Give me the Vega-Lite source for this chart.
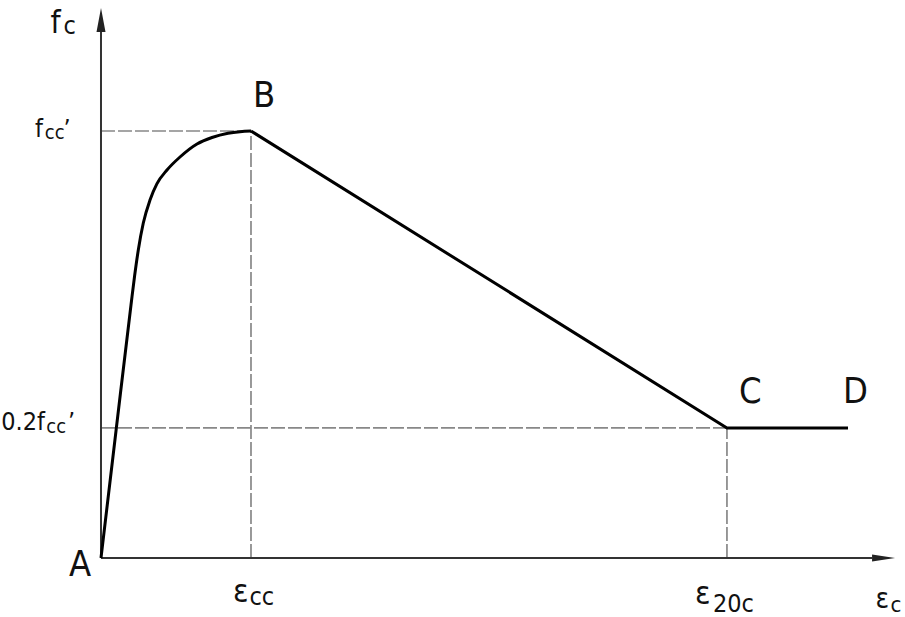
{
  "$schema": "https://vega.github.io/schema/vega-lite/v6.json",
  "width": 905,
  "height": 617,
  "autosize": {"type": "none"},
  "padding": 0,
  "background": "white",
  "config": {"view": {"stroke": null}},
  "datasets": {
    "curve": [
      {"i": 0, "seg": "rise", "strain": 0, "stress": 0},
      {"i": 1, "seg": "rise", "strain": 0.1, "stress": 0.2974},
      {"i": 2, "seg": "rise", "strain": 0.2, "stress": 0.5925},
      {"i": 3, "seg": "rise", "strain": 0.224, "stress": 0.6604},
      {"i": 4, "seg": "rise", "strain": 0.2487, "stress": 0.7213},
      {"i": 5, "seg": "rise", "strain": 0.282, "stress": 0.7845},
      {"i": 6, "seg": "rise", "strain": 0.3267, "stress": 0.8384},
      {"i": 7, "seg": "rise", "strain": 0.3733, "stress": 0.8767},
      {"i": 8, "seg": "rise", "strain": 0.44, "stress": 0.9087},
      {"i": 9, "seg": "rise", "strain": 0.5267, "stress": 0.9391},
      {"i": 10, "seg": "rise", "strain": 0.64, "stress": 0.9696},
      {"i": 11, "seg": "rise", "strain": 0.74, "stress": 0.9848},
      {"i": 12, "seg": "rise", "strain": 0.8467, "stress": 0.9948},
      {"i": 13, "seg": "rise", "strain": 0.9267, "stress": 0.9985},
      {"i": 14, "seg": "rise", "strain": 1.0, "stress": 1.0},
      {"i": 15, "seg": "fall", "strain": 1.0, "stress": 1.0},
      {"i": 16, "seg": "fall", "strain": 4.173, "stress": 0.3045},
      {"i": 17, "seg": "fall", "strain": 4.98, "stress": 0.3045}
    ],
    "guides": [
      {"x": 0, "x2": 1.0, "y": 1.0, "y2": 1.0},
      {"x": 1.0, "x2": 1.0, "y": 0, "y2": 1.0},
      {"x": 0, "x2": 4.173, "y": 0.3045, "y2": 0.3045},
      {"x": 4.173, "x2": 4.173, "y": 0, "y2": 0.3045}
    ],
    "axes": [
      {"x": 0, "x2": 5.14, "y": 0, "y2": 0},
      {"x": 0, "x2": 0, "y": 0, "y2": 1.232}
    ],
    "arrows": [
      {"dir": "up", "x": 0, "y": 1.26},
      {"dir": "right", "x": 5.217, "y": 0}
    ],
    "labels": [
      {"part": "point", "text": "A", "x": -0.213, "y": -0.042},
      {"part": "point", "text": "B", "x": 1.013, "y": 1.056},
      {"part": "point", "text": "C", "x": 4.253, "y": 0.363},
      {"part": "point", "text": "D", "x": 4.947, "y": 0.363},
      {"part": "sym", "text": "f", "x": -0.337, "y": 1.2295},
      {"part": "symsub", "text": "c", "x": -0.25, "y": 1.227},
      {"part": "sym", "text": "ε", "x": 0.88, "y": -0.103},
      {"part": "symsub", "text": "cc", "x": 0.99, "y": -0.11},
      {"part": "sym", "text": "ε", "x": 3.96, "y": -0.108},
      {"part": "symsub", "text": "20c", "x": 4.08, "y": -0.126},
      {"part": "symc", "text": "ε", "x": 5.163, "y": -0.117},
      {"part": "symcsub", "text": "c", "x": 5.263, "y": -0.126},
      {"part": "tick", "text": "f", "x": -0.44, "y": 0.986},
      {"part": "ticksub", "text": "cc", "x": -0.375, "y": 0.981},
      {"part": "tick", "text": "’", "x": -0.25, "y": 0.986},
      {"part": "tick", "text": "0.2f", "x": -0.665, "y": 0.3},
      {"part": "ticksub", "text": "cc", "x": -0.365, "y": 0.293},
      {"part": "tick", "text": "’", "x": -0.22, "y": 0.3}
    ]
  },
  "layer": [
    {
      "data": {"name": "guides"},
      "mark": {"type": "rule", "color": "#888888", "strokeWidth": 1.7, "strokeDash": [14, 3]},
      "encoding": {
        "x": {"field": "x", "type": "quantitative", "scale": {"domain": [-0.6733, 5.36], "nice": false, "zero": false}, "axis": null},
        "x2": {"field": "x2"},
        "y": {"field": "y", "type": "quantitative", "scale": {"domain": [-0.1382, 1.3068], "nice": false, "zero": false}, "axis": null},
        "y2": {"field": "y2"}
      }
    },
    {
      "data": {"name": "axes"},
      "mark": {"type": "rule", "color": "#333333", "strokeWidth": 2},
      "encoding": {
        "x": {"field": "x", "type": "quantitative"},
        "x2": {"field": "x2"},
        "y": {"field": "y", "type": "quantitative"},
        "y2": {"field": "y2"}
      }
    },
    {
      "data": {"name": "arrows"},
      "transform": [{"filter": "datum.dir === 'up'"}],
      "mark": {"type": "point", "shape": "M0,-1L0.375,1L-0.375,1Z", "filled": true, "color": "#222222", "size": 576, "opacity": 1},
      "encoding": {
        "x": {"field": "x", "type": "quantitative"},
        "y": {"field": "y", "type": "quantitative"}
      }
    },
    {
      "data": {"name": "arrows"},
      "transform": [{"filter": "datum.dir === 'right'"}],
      "mark": {"type": "point", "shape": "M1,0L-1,0.3L-1,-0.3Z", "filled": true, "color": "#222222", "size": 529, "opacity": 1},
      "encoding": {
        "x": {"field": "x", "type": "quantitative"},
        "y": {"field": "y", "type": "quantitative"}
      }
    },
    {
      "data": {"name": "curve"},
      "transform": [{"filter": "datum.seg === 'rise'"}],
      "mark": {"type": "line", "color": "#000000", "strokeWidth": 3, "interpolate": "monotone"},
      "encoding": {
        "x": {"field": "strain", "type": "quantitative"},
        "y": {"field": "stress", "type": "quantitative"},
        "order": {"field": "i"}
      }
    },
    {
      "data": {"name": "curve"},
      "transform": [{"filter": "datum.seg === 'fall'"}],
      "mark": {"type": "line", "color": "#000000", "strokeWidth": 3, "strokeJoin": "miter"},
      "encoding": {
        "x": {"field": "strain", "type": "quantitative"},
        "y": {"field": "stress", "type": "quantitative"},
        "order": {"field": "i"}
      }
    },
    {
      "data": {"name": "labels"},
      "transform": [{"filter": "datum.part === 'point'"}],
      "mark": {"type": "text", "align": "left", "baseline": "alphabetic", "font": "DejaVu Sans Condensed", "fontSize": 36, "color": "#111111"},
      "encoding": {
        "x": {"field": "x", "type": "quantitative"},
        "y": {"field": "y", "type": "quantitative"},
        "text": {"field": "text"}
      }
    },
    {
      "data": {"name": "labels"},
      "transform": [{"filter": "datum.part === 'sym'"}],
      "mark": {"type": "text", "align": "left", "baseline": "alphabetic", "font": "DejaVu Sans Condensed", "fontSize": 32, "color": "#111111"},
      "encoding": {
        "x": {"field": "x", "type": "quantitative"},
        "y": {"field": "y", "type": "quantitative"},
        "text": {"field": "text"}
      }
    },
    {
      "data": {"name": "labels"},
      "transform": [{"filter": "datum.part === 'symsub'"}],
      "mark": {"type": "text", "align": "left", "baseline": "alphabetic", "font": "DejaVu Sans Condensed", "fontSize": 25, "color": "#111111"},
      "encoding": {
        "x": {"field": "x", "type": "quantitative"},
        "y": {"field": "y", "type": "quantitative"},
        "text": {"field": "text"}
      }
    },
    {
      "data": {"name": "labels"},
      "transform": [{"filter": "datum.part === 'symc'"}],
      "mark": {"type": "text", "align": "left", "baseline": "alphabetic", "font": "DejaVu Sans Condensed", "fontSize": 28, "color": "#111111"},
      "encoding": {
        "x": {"field": "x", "type": "quantitative"},
        "y": {"field": "y", "type": "quantitative"},
        "text": {"field": "text"}
      }
    },
    {
      "data": {"name": "labels"},
      "transform": [{"filter": "datum.part === 'symcsub'"}],
      "mark": {"type": "text", "align": "left", "baseline": "alphabetic", "font": "DejaVu Sans Condensed", "fontSize": 22, "color": "#111111"},
      "encoding": {
        "x": {"field": "x", "type": "quantitative"},
        "y": {"field": "y", "type": "quantitative"},
        "text": {"field": "text"}
      }
    },
    {
      "data": {"name": "labels"},
      "transform": [{"filter": "datum.part === 'tick'"}],
      "mark": {"type": "text", "align": "left", "baseline": "alphabetic", "font": "DejaVu Sans Condensed", "fontSize": 25, "color": "#111111"},
      "encoding": {
        "x": {"field": "x", "type": "quantitative"},
        "y": {"field": "y", "type": "quantitative"},
        "text": {"field": "text"}
      }
    },
    {
      "data": {"name": "labels"},
      "transform": [{"filter": "datum.part === 'ticksub'"}],
      "mark": {"type": "text", "align": "left", "baseline": "alphabetic", "font": "DejaVu Sans Condensed", "fontSize": 20, "color": "#111111"},
      "encoding": {
        "x": {"field": "x", "type": "quantitative"},
        "y": {"field": "y", "type": "quantitative"},
        "text": {"field": "text"}
      }
    }
  ]
}
